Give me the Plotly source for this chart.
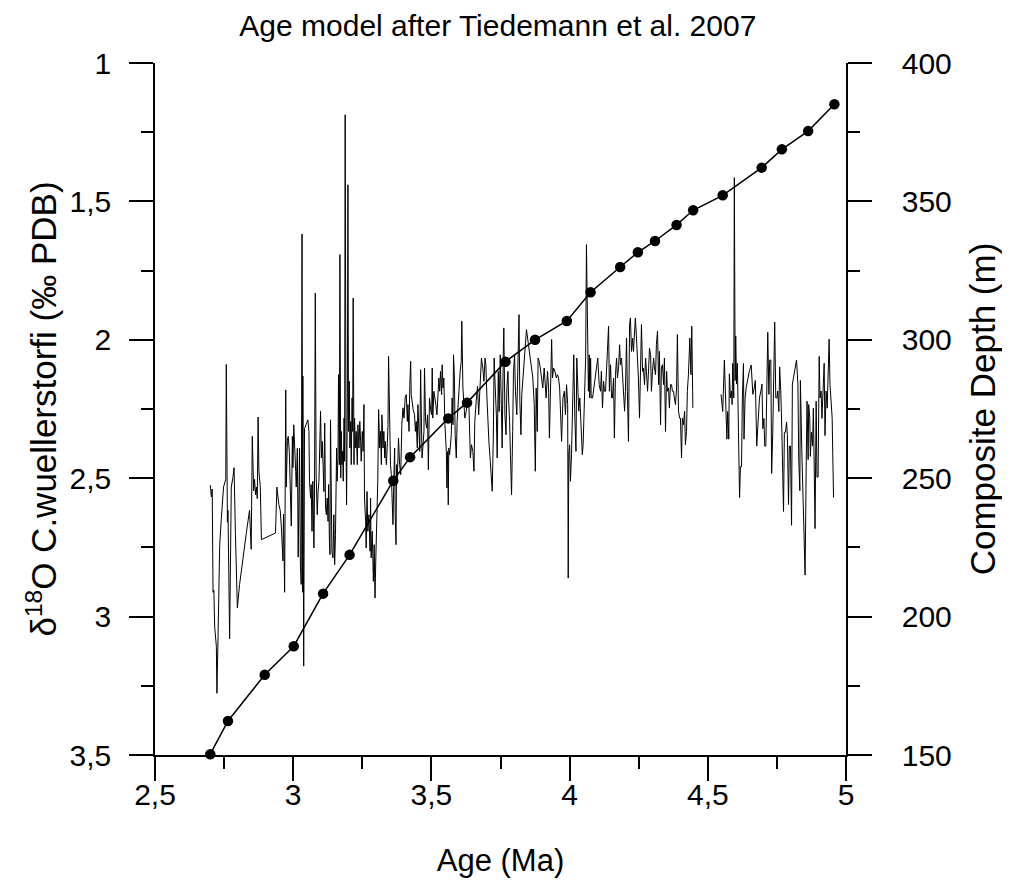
import plotly.graph_objects as go

# delta18O C. wuellerstorfi (permil PDB) vs age (Ma); None marks the data gap
age_d18o = [
    2.700, 2.704, 2.707, 2.710, 2.713, 2.716, 2.722, 2.724, 2.728, 2.734, 2.740, 2.748, 2.756, 2.758, 2.762, 2.764,
    2.770, 2.776, 2.782, 2.786, 2.791, 2.798, 2.806, 2.818, 2.830, 2.842, 2.848, 2.852, 2.857, 2.860, 2.864, 2.867,
    2.870, 2.873, 2.876, 2.881, 2.885, 2.936, 2.941, 2.948, 2.953, 2.957, 2.961, 2.963, 2.965, 2.969, 2.973, 2.975,
    2.979, 2.982, 2.986, 2.989, 2.993, 2.997, 2.999, 3.002, 3.005, 3.009, 3.011, 3.015, 3.018, 3.023, 3.026, 3.029,
    3.032, 3.034, 3.035, 3.038, 3.041,
    3.053, 3.057, 3.059, 3.063, 3.065, 3.068, 3.071, 3.075, 3.077, 3.080, 3.083, 3.087, 3.090, 3.093, 3.096, 3.099,
    3.102, 3.105, 3.108, 3.111, 3.114, 3.117, 3.120, 3.123, 3.126, 3.128, 3.131, 3.133, 3.135, 3.138, 3.140, 3.144,
    3.147, 3.150, 3.153, 3.157, 3.159, 3.162, 3.164, 3.167, 3.169, 3.172, 3.174, 3.176, 3.179, 3.181, 3.184, 3.186,
    3.188, 3.191, 3.193, 3.196, 3.198, 3.200, 3.203, 3.205, 3.208, 3.210, 3.213, 3.215, 3.217, 3.220, 3.222, 3.225,
    3.228, 3.232, 3.234, 3.238, 3.241, 3.244, 3.246, 3.250, 3.253, 3.256, 3.258, 3.262, 3.264, 3.267, 3.270, 3.274,
    3.278, 3.280, 3.282, 3.286, 3.290, 3.293, 3.296, 3.299, 3.303, 3.306, 3.309, 3.313, 3.316, 3.319, 3.321, 3.325,
    3.328, 3.331, 3.333, 3.337, 3.340, 3.343, 3.345, 3.349, 3.352, 3.355, 3.357, 3.361, 3.364, 3.367, 3.369, 3.372,
    3.374, 3.376, 3.379, 3.381, 3.385, 3.389, 3.393, 3.397, 3.401, 3.405, 3.409, 3.413, 3.415, 3.419, 3.422, 3.425,
    3.427, 3.431, 3.434, 3.439, 3.442, 3.445, 3.449, 3.451, 3.455, 3.458, 3.461, 3.463, 3.466, 3.469, 3.473, 3.475,
    3.479, 3.483, 3.486, 3.489, 3.493, 3.498, 3.501, 3.503, 3.505, 3.509, 3.513, 3.516, 3.520, 3.524, 3.527, 3.530,
    3.533, 3.537, 3.539, 3.542, 3.545, 3.549, 3.554, 3.556, 3.559, 3.561, 3.563, 3.566, 3.568, 3.572, 3.575, 3.578,
    3.580, 3.583, 3.586, 3.590, 3.593, 3.597, 3.601, 3.604, 3.608, 3.610, 3.614, 3.618, 3.621, 3.626, 3.631, 3.636,
    3.641, 3.645, 3.650, 3.654, 3.657, 3.662, 3.667, 3.671, 3.674, 3.678, 3.681, 3.686, 3.690, 3.694, 3.697, 3.701,
    3.704, 3.708, 3.713, 3.716, 3.720, 3.724, 3.727, 3.731, 3.735, 3.738, 3.742, 3.745, 3.749, 3.753, 3.756, 3.760,
    3.762, 3.766, 3.770, 3.773, 3.777, 3.780, 3.783, 3.786, 3.790, 3.794, 3.797, 3.801, 3.804, 3.809, 3.813, 3.817,
    3.820, 3.824, 3.827, 3.831, 3.836, 3.841, 3.844, 3.848, 3.853, 3.857, 3.862, 3.867, 3.872, 3.876, 3.879, 3.883,
    3.886, 3.890, 3.894, 3.899, 3.903, 3.908, 3.912, 3.915, 3.920, 3.924, 3.927, 3.931, 3.935, 3.938, 3.942, 3.947,
    3.952, 3.956, 3.960, 3.964, 3.967, 3.971, 3.976, 3.981, 3.985, 3.989, 3.993, 3.995, 3.997, 4.000, 4.003, 4.007,
    4.012, 4.015, 4.019, 4.023, 4.026, 4.030, 4.033, 4.037, 4.042, 4.046, 4.049, 4.054, 4.058, 4.061, 4.064, 4.066,
    4.068, 4.071, 4.073, 4.076, 4.078, 4.083, 4.088, 4.093, 4.097, 4.102, 4.107, 4.112, 4.115, 4.119, 4.123, 4.126,
    4.130, 4.134, 4.137, 4.141, 4.144, 4.148, 4.152, 4.155, 4.159, 4.162, 4.166, 4.170, 4.173, 4.177, 4.181, 4.184,
    4.188, 4.191, 4.195, 4.199, 4.202, 4.206, 4.209, 4.213, 4.217, 4.220, 4.224, 4.228, 4.231, 4.235, 4.238, 4.242,
    4.246, 4.249, 4.253, 4.256, 4.260, 4.264, 4.267, 4.271, 4.275, 4.278, 4.282, 4.285, 4.289, 4.293, 4.296, 4.300,
    4.304, 4.307, 4.311, 4.314, 4.318, 4.322, 4.325, 4.329, 4.332, 4.336, 4.340, 4.343, 4.347, 4.351, 4.354, 4.358,
    4.361, 4.365, 4.369, 4.372, 4.376, 4.379, 4.383, 4.387, 4.390, 4.394, 4.398, 4.401, 4.405, 4.408, 4.412, 4.416,
    4.419, 4.423, 4.426, 4.430, 4.435, 4.439, 4.442, 4.446,
    4.500,
    4.548, 4.554, 4.560, 4.564, 4.566, 4.569, 4.572, 4.576, 4.578, 4.582, 4.586, 4.588, 4.590, 4.594, 4.596, 4.599,
    4.601, 4.604, 4.607, 4.611, 4.615, 4.618, 4.622, 4.625, 4.629, 4.631, 4.635, 4.639, 4.645, 4.651, 4.657, 4.663,
    4.666, 4.672, 4.677, 4.682, 4.687, 4.692, 4.696, 4.699, 4.703, 4.706, 4.710, 4.713, 4.717, 4.721, 4.724, 4.728,
    4.731, 4.735, 4.739, 4.742, 4.746, 4.750, 4.753, 4.757, 4.760, 4.764, 4.768, 4.771, 4.774, 4.777, 4.781, 4.785,
    4.788, 4.792, 4.795, 4.799, 4.803, 4.806, 4.813, 4.821, 4.826, 4.829, 4.833, 4.835, 4.840, 4.844, 4.847, 4.852,
    4.856, 4.859, 4.863, 4.865, 4.869, 4.871, 4.875, 4.879, 4.882, 4.885, 4.888, 4.892, 4.895, 4.899, 4.903, 4.906,
    4.910, 4.913, 4.917, 4.921, 4.924, 4.928, 4.932, 4.935, 4.939, 4.942, 4.946, 4.950, 4.952, 4.955,
]
d18o = [
    2.525, 2.567, 2.539, 2.912, 2.905, 3.038, 3.108, 3.277, 3.080, 2.743, 2.645, 2.532, 2.504, 2.089, 2.659, 2.616,
    3.080, 2.532, 2.497, 2.462, 2.701, 2.968, 2.884, 2.785, 2.701, 2.616, 2.757, 2.349, 2.546, 2.504, 2.560, 2.532,
    2.574, 2.279, 2.476, 2.532, 2.722, 2.698, 2.532, 2.595, 2.616, 2.673, 2.757, 2.799, 2.630, 2.912, 2.181, 2.532,
    2.363, 2.349, 2.406, 2.532, 2.673, 2.349, 2.462, 2.307, 2.420, 2.476, 2.532, 2.392, 2.785, 2.392, 2.813, 2.884,
    1.618, 2.912, 2.131, 3.179, 2.321,
    2.289, 2.331, 2.511, 2.572, 2.523, 2.692, 2.511, 2.752, 2.572, 1.831, 2.487, 2.632, 2.548, 2.511, 2.391, 2.258,
    2.427, 2.367, 2.451, 2.548, 2.301, 2.608, 2.632, 2.572, 2.656, 2.523, 2.728, 2.776, 2.289, 2.644, 2.764, 2.788,
    2.632, 2.812, 2.704, 2.391, 2.511, 2.427, 2.126, 2.451, 1.692, 2.499, 2.331, 2.451, 2.403, 2.511, 2.283, 2.439,
    1.187, 2.331, 2.596, 2.210, 1.440, 2.331, 2.150, 2.391, 2.295, 2.451, 2.210, 2.331, 1.849, 2.451, 2.283, 2.391,
    2.331, 2.451, 2.307, 2.391, 2.295, 2.367, 2.439, 2.331, 2.403, 2.234, 2.572, 2.656, 2.752, 2.548, 2.692, 2.632,
    2.764, 2.572, 2.788, 2.692, 2.873, 2.740, 2.933, 2.788, 2.632, 2.511, 2.252, 2.391, 2.331, 2.451, 2.271, 2.391,
    2.331, 2.427, 2.367, 2.451, 2.391, 2.307, 2.060, 2.331, 2.451, 2.487, 2.572, 2.668, 2.511, 2.391, 2.632, 2.740,
    2.451, 2.511, 2.427, 2.355, 2.451, 2.487, 2.307, 2.246, 2.283, 2.210, 2.198, 2.295, 2.234, 2.331, 2.162, 2.078,
    2.198, 2.246, 2.252, 2.271, 2.331, 2.295, 2.391, 2.234, 2.331, 2.403, 2.108, 2.331, 2.427, 2.391, 2.331, 2.102,
    2.295, 2.319, 2.271, 2.469, 2.210, 2.259, 2.271, 2.102, 2.283, 2.186, 2.210, 2.234, 2.271, 2.174, 2.138, 2.186,
    2.114, 2.198, 2.090, 2.174, 2.138, 2.307, 2.403, 2.535, 2.403, 2.596, 2.391, 2.415, 2.379, 2.343, 2.210, 2.307,
    2.054, 2.126, 2.343, 2.427, 2.295, 2.210, 2.174, 2.114, 2.078, 1.933, 2.174, 2.222, 2.283, 2.259, 2.210, 2.246,
    2.427, 2.379, 2.403, 2.475, 2.295, 2.222, 2.168, 2.271, 2.210, 2.150, 2.066, 2.102, 2.150, 2.066, 2.090, 2.210,
    2.295, 2.367, 2.439, 2.487, 2.547, 2.355, 2.066, 2.174, 2.271, 2.427, 2.114, 2.259, 2.054, 2.234, 2.391, 2.054,
    1.957, 2.271, 2.343, 2.174, 2.114, 2.234, 2.295, 2.415, 2.560, 2.331, 2.114, 2.054, 2.186, 2.271, 2.078, 1.909,
    2.222, 2.343, 2.198, 2.150, 2.078, 2.030, 1.963, 1.994, 2.030, 2.078, 2.102, 2.138, 2.234, 2.475, 2.174, 2.331,
    2.066, 2.078, 2.102, 2.150, 2.174, 2.102, 2.162, 2.210, 2.114, 2.174, 2.355, 2.090, 1.999, 2.138, 2.102, 2.114,
    2.138, 2.126, 2.138, 2.174, 2.246, 2.367, 2.210, 2.186, 2.271, 2.162, 2.234, 2.861, 2.415, 2.379, 2.511, 2.415,
    2.186, 2.054, 2.283, 2.403, 2.066, 2.186, 2.258, 2.210, 2.307, 2.415, 2.379, 2.222, 2.066, 1.656, 1.885, 2.090,
    2.186, 2.054, 2.210, 2.066, 2.210, 2.210, 2.174, 2.126, 2.090, 2.066, 2.162, 2.186, 2.114, 2.246, 2.150, 2.186,
    2.186, 2.114, 2.030, 1.951, 2.186, 2.090, 2.210, 2.210, 2.138, 2.355, 2.126, 2.066, 2.138, 2.102, 2.018, 2.090,
    2.066, 2.114, 2.186, 2.258, 2.186, 1.994, 2.186, 2.367, 1.945, 1.921, 2.042, 1.994, 2.042, 1.969, 1.921, 1.994,
    2.066, 2.138, 2.283, 2.066, 1.945, 2.114, 2.102, 2.162, 2.066, 2.114, 2.186, 2.126, 2.030, 2.054, 2.186, 2.114,
    2.066, 2.102, 2.126, 2.018, 1.969, 2.162, 2.042, 2.307, 2.102, 2.090, 2.162, 2.066, 2.331, 2.114, 2.186, 2.174,
    2.246, 2.162, 2.162, 2.186, 2.186, 2.210, 2.234, 2.174, 1.981, 2.258, 2.283, 2.283, 2.427, 2.283, 2.307, 2.258,
    2.379, 2.331, 2.186, 2.126, 1.994, 2.126, 1.951, 2.246,
    None,
    2.197, 2.259, 2.073, 2.210, 2.272, 2.359, 2.259, 2.359, 2.123, 2.210, 2.185, 2.234, 2.085, 2.210, 1.414, 2.147,
    1.986, 2.160, 2.085, 2.334, 2.570, 2.458, 2.458, 2.210, 2.085, 2.359, 2.210, 2.172, 2.135, 2.110, 2.091, 2.197,
    2.185, 2.147, 2.384, 2.284, 2.210, 2.185, 2.160, 2.321, 2.284, 2.384, 2.384, 2.210, 1.973, 2.197, 2.073, 2.073,
    2.483, 2.334, 2.160, 1.936, 2.210, 2.210, 2.185, 2.259, 2.098, 2.185, 2.334, 2.458, 2.620, 2.334, 2.334, 2.297,
    2.346, 2.595, 2.384, 2.384, 2.670, 2.160, 2.123, 2.073, 2.160, 2.433, 2.545, 2.147, 2.396, 2.583, 2.707, 2.850,
    2.458, 2.222, 2.433, 2.234, 2.284, 2.421, 2.334, 2.384, 2.247, 2.558, 2.682, 2.222, 2.496, 2.496, 2.060, 2.210,
    2.185, 2.284, 2.172, 2.085, 2.346, 2.185, 2.247, 2.135, 1.998, 2.160, 2.210, 2.284, 2.408, 2.570,
]

# age model tie points: age (Ma) vs composite depth (m)
age_model = [2.700, 2.764, 2.897, 3.002, 3.108, 3.204, 3.362, 3.423, 3.561, 3.629, 3.768, 3.875,
             3.990, 4.076, 4.183, 4.247, 4.309, 4.387, 4.447, 4.554, 4.695, 4.768, 4.863, 4.958]
depth_model = [150.3, 162.3, 179.0, 189.3, 208.3, 222.3, 249.1, 257.6, 271.6, 277.3, 292.1, 300.0,
               306.8, 317.2, 326.3, 331.6, 335.7, 341.5, 346.8, 352.2, 362.2, 368.8, 375.4, 385.1]

x_ticks = [2.5, 3.0, 3.5, 4.0, 4.5, 5.0]
y_ticks = [1.0, 1.5, 2.0, 2.5, 3.0, 3.5]
y2_ticks = [150, 200, 250, 300, 350, 400]

FONT = "Liberation Sans, Arial, sans-serif"
BLACK = "#000000"

fig = go.Figure()
fig.add_trace(go.Scatter(
    x=age_d18o, y=d18o, mode="lines", yaxis="y",
    line=dict(color=BLACK, width=1), connectgaps=False, showlegend=False,
))
fig.add_trace(go.Scatter(
    x=age_model, y=depth_model, mode="lines+markers", yaxis="y2",
    line=dict(color=BLACK, width=1.5),
    marker=dict(color=BLACK, size=10.5, symbol="circle"),
    showlegend=False, cliponaxis=False,
))

tick_common = dict(
    ticks="outside", ticklen=24, tickwidth=1.5, tickcolor=BLACK,
    showline=True, linewidth=1.5, linecolor=BLACK,
    showgrid=False, zeroline=False,
    tickfont=dict(family=FONT, size=30, color=BLACK),
)

fig.update_layout(
    width=1010, height=884,
    paper_bgcolor="white", plot_bgcolor="white",
    separators=",.",
    margin=dict(l=147, r=172, t=55, b=137),
    title=dict(text="Age model after Tiedemann et al. 2007",
               font=dict(family=FONT, size=30, color=BLACK),
               x=0.485, xanchor="center", xref="container",
               y=1 - 17 / 884, yanchor="middle", yref="container"),
    xaxis=dict(
        range=[2.5, 5.0], tickmode="array", tickvals=x_ticks,
        ticktext=[f"{v:g}".replace(".", ",") for v in x_ticks],
        ticklabelstandoff=-12,
        minor=dict(ticks="outside", ticklen=12, tickwidth=1.5, tickcolor=BLACK,
                   tick0=2.25, dtick=0.25, showgrid=False),
        title=dict(text="Age (Ma)", font=dict(family=FONT, size=31, color=BLACK), standoff=40),
        **tick_common,
    ),
    yaxis=dict(
        range=[3.5, 1.0], tickmode="array", tickvals=y_ticks,
        ticktext=[f"{v:g}".replace(".", ",") for v in y_ticks],
        ticklabelstandoff=12,
        minor=dict(ticks="outside", ticklen=12, tickwidth=1.5, tickcolor=BLACK,
                   tick0=1.0, dtick=0.25, showgrid=False),
        title=dict(text="δ<sup>18</sup>O C.wuellerstorfi (‰ PDB)",
                   font=dict(family=FONT, size=35, color=BLACK), standoff=2),
        **tick_common,
    ),
    yaxis2=dict(
        range=[150, 400], overlaying="y", side="right", anchor="x",
        tickmode="array", tickvals=y2_ticks,
        ticklabelstandoff=24,
        minor=dict(ticks="outside", ticklen=12, tickwidth=1.5, tickcolor=BLACK,
                   tick0=150, dtick=25, showgrid=False),
        title=dict(text="Composite Depth (m)",
                   font=dict(family=FONT, size=35, color=BLACK), standoff=20),
        **tick_common,
    ),
)

fig.write_html("out.html")
